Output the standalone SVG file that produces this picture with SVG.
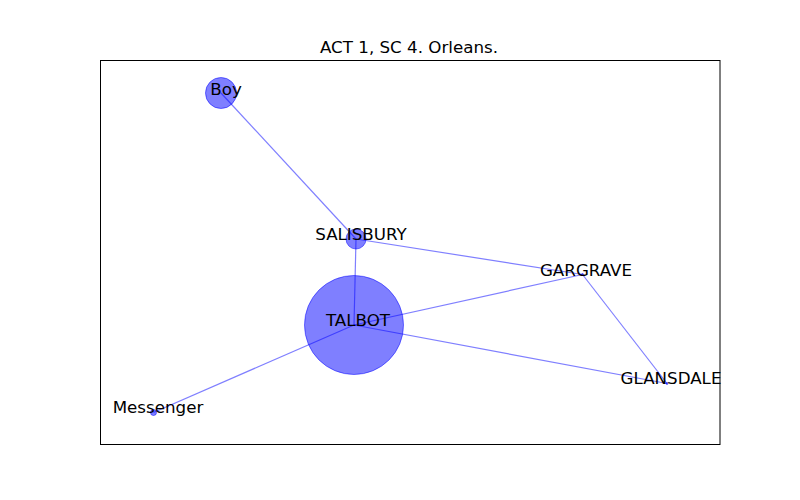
<svg xmlns="http://www.w3.org/2000/svg" width="800" height="500" viewBox="0 0 800 500">
<style>
.edge{stroke:#0000ff;stroke-opacity:0.5;stroke-width:1.2;fill:none}
.node{fill:#0000ff;fill-opacity:0.5;stroke:#0000ff;stroke-opacity:0.5;stroke-width:1}
.lbl{font-family:"DejaVu Sans",sans-serif;font-size:16.7px;fill:#000;text-anchor:middle}
.title{font-family:"DejaVu Sans",sans-serif;font-size:16.7px;fill:#000;text-anchor:middle}
</style>
<rect width="800" height="500" fill="#fff"/>
<text class="title" x="409" y="52.5">ACT 1, SC 4. Orleans.</text>
<rect x="100.5" y="60.5" width="619.5" height="384" fill="none" stroke="#000" stroke-width="1"/>
<g id="edges">
<line class="edge" x1="221" y1="93" x2="356" y2="239"/>
<line class="edge" x1="356" y1="239" x2="354" y2="325"/>
<line class="edge" x1="356" y1="239" x2="582.5" y2="274.5"/>
<line class="edge" x1="354" y1="325" x2="582.5" y2="274.5"/>
<line class="edge" x1="354" y1="325" x2="667" y2="383.5"/>
<line class="edge" x1="354" y1="325" x2="153.5" y2="412.5"/>
<line class="edge" x1="582.5" y1="274.5" x2="667" y2="383.5"/>
</g>
<g id="node-boy"><circle class="node" cx="221" cy="93" r="15.5"/><text class="lbl" x="226" y="94.5">Boy</text></g>
<g id="node-salisbury"><circle class="node" cx="356" cy="239" r="10"/><text class="lbl" x="361" y="240">SALISBURY</text></g>
<g id="node-talbot"><circle class="node" cx="354" cy="325" r="49.5"/><text class="lbl" x="358" y="326">TALBOT</text></g>
<g id="node-gargrave"><circle class="node" cx="582.5" cy="274.5" r="1"/><text class="lbl" x="586" y="276">GARGRAVE</text></g>
<g id="node-glansdale"><circle class="node" cx="667" cy="383.5" r="1"/><text class="lbl" x="671" y="384">GLANSDALE</text></g>
<g id="node-messenger"><circle class="node" cx="153.5" cy="412.5" r="3"/><text class="lbl" x="158" y="413">Messenger</text></g>
</svg>
